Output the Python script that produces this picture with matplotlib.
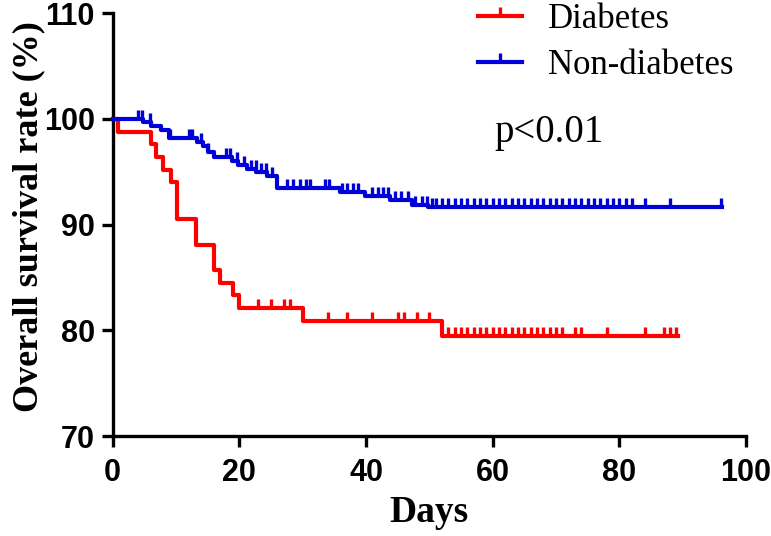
import matplotlib
matplotlib.use('Agg')
import matplotlib.pyplot as plt
import numpy as np
from matplotlib.lines import Line2D
from matplotlib.path import Path

# Kaplan-Meier steps (day, survival %)
dia_t = [0, 0.8, 6.0, 6.9, 8.0, 9.2, 10.1, 13.2, 16.0, 17.0, 19.0, 20.0, 30.0, 52.0, 89.3]
dia_s = [100, 98.8, 97.6, 96.4, 95.2, 94.0, 90.5, 88.1, 85.7, 84.5, 83.3, 82.1, 80.9, 79.5, 79.5]
dia_cens = [23, 25, 27, 28, 34, 37, 41, 45, 46, 48, 50,
            53, 54, 55, 56, 57, 58, 59, 60, 61, 62, 63, 64, 65, 66, 67, 68, 69, 70, 71,
            73, 74, 78, 84, 87, 88, 89]

non_t = [0, 4.8, 6.0, 7.7, 8.9, 13.3, 14.3, 15.1, 16.0, 18.8, 19.8, 21.2, 22.7, 24.3,
         25.9, 35.9, 39.9, 43.8, 47.2, 49.8, 96.2]
non_s = [100, 99.7, 99.3, 99.0, 98.2, 97.8, 97.4, 96.9, 96.4, 96.0, 95.6, 95.3, 94.95, 94.6,
         93.5, 93.1, 92.7, 92.3, 91.9, 91.7, 91.7]
non_cens = [4, 4.7, 5.9, 9, 12, 12.6, 14, 15.1, 17.9, 18.6, 19.6, 20.7, 21.9, 22.6, 23.4, 24.2,
            25.1, 27.5, 28.5, 29.6, 30.6, 31.2, 33.5, 34.2, 36.2, 37, 38, 38.8, 40.9, 41.9,
            42.7, 43.5, 44.6, 45.6, 46.7, 47.8, 48.9, 49.7, 50.4,
            51, 52, 53, 54, 55, 56, 57, 58, 59, 60, 61, 62, 63, 64, 65, 66, 67, 68, 69, 70,
            71, 72, 73, 74, 75, 76, 77, 78, 79, 80, 81, 82, 84, 88, 96]

labels = ['Diabetes', 'Non-diabetes']
colors = ['#FF0000', '#0000D8']

xticks = [0, 20, 40, 60, 80, 100]
yticks = [70, 80, 90, 100, 110]

# censor mark: short vertical tick going up from the curve
tick_mark = Path([(0, 0), (0, 1)], [Path.MOVETO, Path.LINETO])


def surv_at(t, s, x):
    idx = np.searchsorted(np.asarray(t), np.asarray(x), side='right') - 1
    return np.asarray(s)[idx]


def main():
    fig = plt.figure(figsize=(7.71, 5.36), dpi=100)
    ax = fig.add_axes([112.7 / 771, 1 - 436 / 536, (746 - 112.7) / 771, (436 - 13.3) / 536])

    handles = []
    for t, s, c, col, lab in [(dia_t, dia_s, dia_cens, colors[0], labels[0]),
                              (non_t, non_s, non_cens, colors[1], labels[1])]:
        ax.step(t, s, where='post', color=col, lw=3.0, clip_on=False, zorder=3)
        ax.plot(c, surv_at(t, s, c), ls='none', marker=tick_mark, ms=13, mew=2.4,
                color=col, clip_on=False, zorder=3)
        handles.append(Line2D([], [], color=col, lw=3.0, marker=tick_mark, ms=13, mew=2.4))

    ax.set_xlim(0, 100)
    ax.set_ylim(70, 110)
    ax.set_xticks(xticks)
    ax.set_yticks(yticks)
    for side in ['top', 'right']:
        ax.spines[side].set_visible(False)
    for side in ['left', 'bottom']:
        ax.spines[side].set_linewidth(2.4)
    ax.tick_params(width=2.4, length=8, labelsize=22)
    ax.tick_params(axis='x', pad=8)
    ax.tick_params(axis='y', pad=5)
    for lbl in ax.get_xticklabels() + ax.get_yticklabels():
        lbl.set_fontfamily('Liberation Sans')
        lbl.set_fontweight('bold')

    ax.set_xlabel('Days', family='Liberation Serif', weight='bold', fontsize=27)
    ax.set_ylabel('Overall survival rate (%)', family='Liberation Serif', weight='bold',
                  fontsize=26)
    ax.xaxis.set_label_coords(0.5, -0.14)
    ax.yaxis.set_label_coords(-0.106, 0.52)

    ax.legend(handles, labels, loc='upper left', bbox_to_anchor=(478 / 771, 1 - 3 / 536),
              bbox_transform=fig.transFigure, frameon=False,
              prop={'family': 'Liberation Serif', 'size': 25},
              handlelength=1.27, handletextpad=0.75, labelspacing=0.38,
              borderpad=0.0, borderaxespad=0.0)

    fig.text(494 / 771, 1 - 142 / 536, 'p<0.01', family='Liberation Serif', fontsize=28,
             va='baseline')

    fig.savefig('out.png', dpi=100)


if __name__ == '__main__':
    main()
